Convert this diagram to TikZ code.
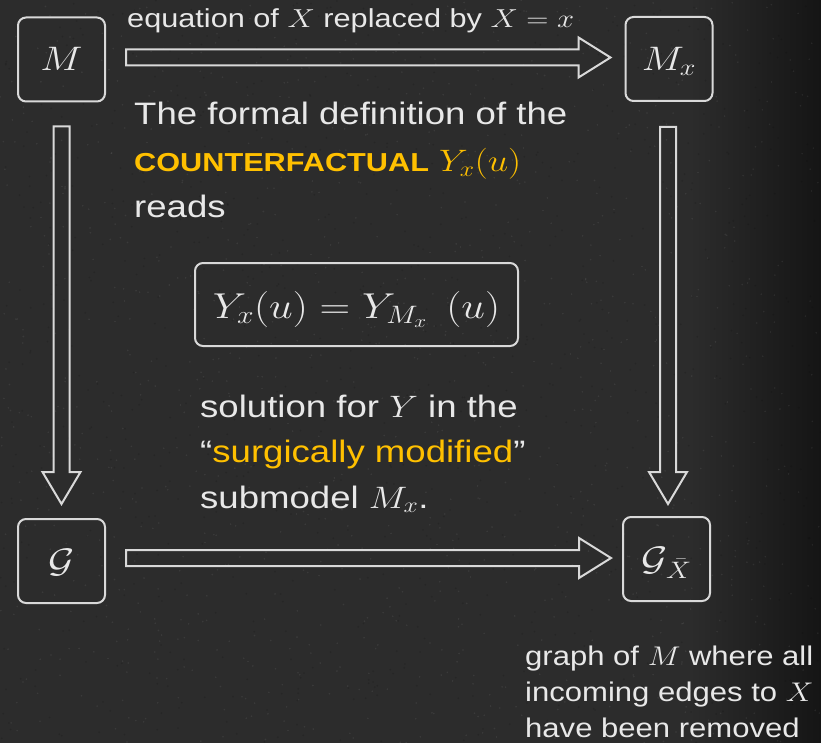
\RequirePackage{fix-cm}
\documentclass[tikz,border=0pt]{standalone}
\usepackage{fontspec}
\setmainfont{Liberation Sans}
\usepackage{graphicx}
\usetikzlibrary{calc}
\definecolor{bg}{HTML}{2C2C2C}
\definecolor{bgdark}{HTML}{151515}
\definecolor{chalk}{HTML}{E8E8E8}
\definecolor{linec}{HTML}{D9D9D9}
\definecolor{gold}{HTML}{FFC000}
\newcommand\hst[1]{\scalebox{1.18}[1]{#1}}
\newcommand\hdarrow[2]{\draw[dbl] ($(#1)+(0,-8)$) -- ($(#2)+(-32,-8)$) -- ($(#2)+(-32,-20)$) -- (#2) -- ($(#2)+(-32,20)$) -- ($(#2)+(-32,8)$) -- ($(#1)+(0,8)$) -- cycle;}
\newcommand\vdarrow[2]{\draw[dbl] ($(#1)+(-8,0)$) -- ($(#2)+(-8,-32)$) -- ($(#2)+(-19,-32)$) -- (#2) -- ($(#2)+(19,-32)$) -- ($(#2)+(8,-32)$) -- ($(#1)+(8,0)$) -- cycle;}
\begin{document}
\begin{tikzpicture}[x=1pt,y=-1pt,
  box/.style={draw=linec, line width=2pt, rounded corners=8pt, minimum width=87pt, minimum height=84pt, inner sep=0pt, text=chalk, font=\fontsize{34}{40}\selectfont, text height=23pt, text depth=0pt},
  dbl/.style={draw=linec, line width=2pt},
  txt/.style={text=chalk, inner sep=0pt, anchor=base west}]
\useasboundingbox (0,0) rectangle (821,743);
\begin{scope}
\clip (0,0) rectangle (821,743);
\fill[bg] (0,0) rectangle (821,743);
\shade[left color=bg, right color=bgdark] (690,0) rectangle (821,743);
\pgfmathsetseed{7}
\foreach \i in {1,...,1200}{
  \pgfmathsetmacro{\px}{rnd*821}
  \pgfmathsetmacro{\py}{rnd*743}
  \fill[white, opacity=0.07] (\px,\py) circle (0.9pt);
}
\foreach \i in {1,...,900}{
  \pgfmathsetmacro{\px}{rnd*821}
  \pgfmathsetmacro{\py}{rnd*743}
  \fill[black, opacity=0.12] (\px,\py) circle (1pt);
}
\end{scope}

\node[box] (M) at (61.5,59.5) {\hst{$M$}};
\node[box] (Mx) at (669,59) {\hst{$M_x$}};
\node[box] (G) at (61.5,561) {\hst{$\mathcal{G}$}};
\node[box] (GX) at (666.5,559) {\hst{$\mathcal{G}_{\kern1pt\bar{X}}$}};

\node[draw=linec, line width=2pt, rounded corners=8pt, minimum width=323pt, minimum height=83pt, inner sep=4pt, text=chalk, font=\fontsize{36}{40}\selectfont, text height=36pt, text depth=9pt] (eq) at (356.5,304.5) {\hst{$Y_x(u) = Y_{M_x}\;\,(u)$}};

\coordinate (h1s) at ($(M.east)+(20,-2)$);
\coordinate (h1t) at ($(h1s -| Mx.west)+(-14,0)$);
\coordinate (h2s) at ($(G.east)+(20,-3)$);
\coordinate (h2t) at ($(h2s -| GX.west)+(-11,0)$);
\coordinate (v1s) at ($(M.south)+(0,24)$);
\coordinate (v1t) at ($(v1s |- G.north)+(0,-14)$);
\coordinate (v2s) at ($(Mx.south)+(-1,25)$);
\coordinate (v2t) at ($(v2s |- GX.north)+(0,-12)$);
\hdarrow{h1s}{h1t}
\hdarrow{h2s}{h2t}
\vdarrow{v1s}{v1t}
\vdarrow{v2s}{v2t}

\node[txt, font=\fontsize{26}{30}\selectfont] (lab) at (127,28) {\hst{equation of $X$ replaced by $X=x$}};

\node[txt, font=\fontsize{31}{46.5}\selectfont] (def) at (134,125) {\hst{\begin{tabular}[t]{@{}l@{}}The formal definition of the\\
{\color{gold}{\fontsize{26}{46.5}\selectfont\bfseries COUNTERFACTUAL} $Y_x(u)$}\\
reads\end{tabular}}};

\node[txt, font=\fontsize{31}{45.5}\selectfont] (sol) at (200,417) {\hst{\begin{tabular}[t]{@{}l@{}}solution for $Y$ in the\\
“{\color{gold}surgically modified}”\\
submodel $M_x$.\end{tabular}}};

\node[txt, font=\fontsize{27}{36}\selectfont] (gr) at (525,665) {\scalebox{1.15}[1]{\begin{tabular}[t]{@{}l@{}}graph of $M$ where all\\
incoming edges to $X$\\
have been removed\end{tabular}}};
\end{tikzpicture}
\end{document}
